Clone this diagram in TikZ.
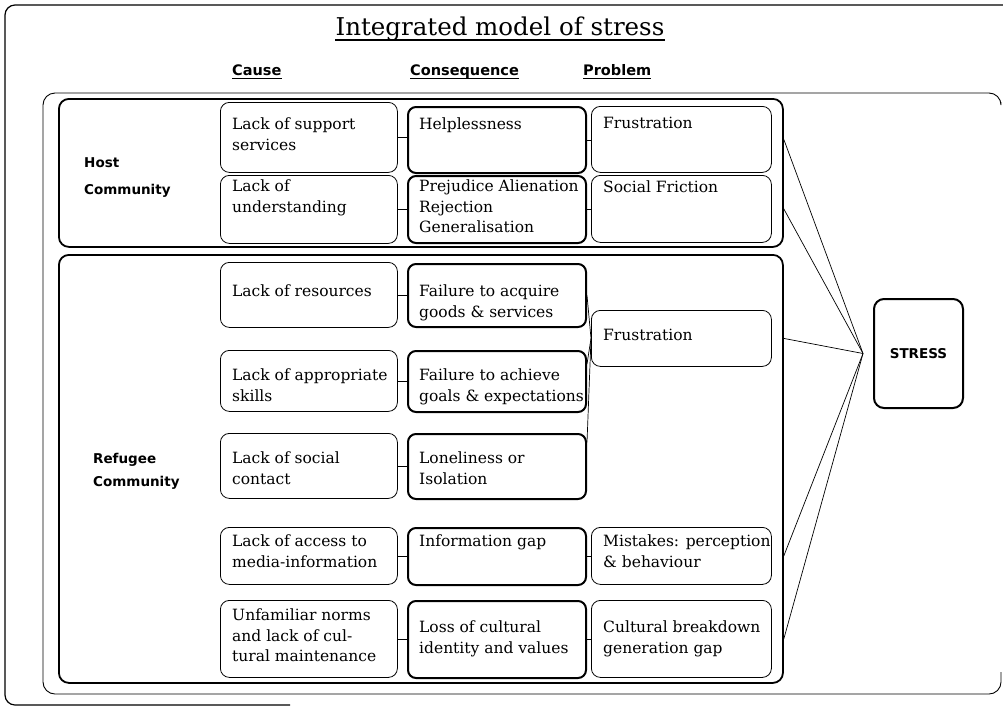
\documentclass[tikz,border=0pt]{standalone}
\usepackage{fontspec}
\setmainfont{DejaVu Serif}
\newfontfamily\headfont{DejaVu Sans}
\usetikzlibrary{calc}

\tikzset{
  causebox/.style={draw, line width=0.8pt, rounded corners=9pt, anchor=north west, inner sep=0pt, minimum width=177},
  consbox/.style={draw, line width=2pt, rounded corners=8pt, anchor=north west, inner sep=0pt, minimum width=178},
  probbox/.style={draw, line width=0.8pt, rounded corners=9pt, anchor=north west, inner sep=0pt, minimum width=180},
  groupbox/.style={draw, line width=1.8pt, rounded corners=10pt, anchor=north west, inner sep=0pt, minimum width=724},
  stressbox/.style={draw, line width=2pt, rounded corners=10pt, anchor=north west, inner sep=0pt,
    font=\headfont\bfseries\fontsize{13.5}{15}\selectfont},
  celltext/.style={anchor=north west, inner sep=0pt, align=left, font=\fontsize{15.5}{20.5}\selectfont},
  grouplabel/.style={anchor=west, inner sep=0pt, align=left, font=\headfont\bfseries\fontsize{13.5}{#1}\selectfont},
  header/.style={anchor=base west, inner sep=0pt, font=\headfont\bfseries\fontsize{14.5}{16}\selectfont},
  link/.style={draw, line width=0.7pt},
}

\begin{document}
\begin{tikzpicture}[x=1pt, y=-1pt]
    \useasboundingbox (0,0) rectangle (1003,710);

    % frames, partly cut off by the scan
    \draw[line width=1.2pt, rounded corners=10pt] (1003,5) -- (5,5) -- (5,705) -- (290,705);
    \draw[line width=0.9pt, rounded corners=12pt] (1001,672) -- (1001,694) -- (43,694) -- (43,93) -- (1001,93) -- (1001,102);

    \node[anchor=base, inner sep=0pt, font=\fontsize{24.5}{28}\selectfont] (title) at (500,35) {Integrated model of stress};
    \draw[line width=1.2pt] ($(title.base west)+(0,5)$) -- ($(title.base east)+(0,5)$);

    \foreach \n/\x/\t in {hcause/232/Cause, hcons/410/Consequence, hprob/583/Problem} {
        \node[header] (\n) at (\x,75) {\t};
        \draw[line width=1.2pt] ($(\n.base west)+(0,3.5)$) -- ($(\n.base east)+(0,3.5)$);
    }

    \node[groupbox, minimum height=148] (host) at (58,98) {};
    \node[groupbox, minimum height=428] (ref) at (58,254) {};
    \node[grouplabel=27] (hostlbl) at (84,178) {Host\\Community};
    \node[grouplabel=23] (reflbl) at (93,471) {Refugee\\Community};

    \foreach \n/\s/\x/\y/\h in {
        c1/causebox/220/102/70, e1/consbox/407/106/66, p1/probbox/591/106/66,
        c2/causebox/220/175/68, e2/consbox/407/175/67, p2/probbox/591/175/67,
        rc1/causebox/220/262/65, re1/consbox/407/263/63, fr/probbox/591/310/56,
        rc2/causebox/220/350/61, re2/consbox/407/350/61,
        rc3/causebox/220/433/65, re3/consbox/407/433/65,
        rc4/causebox/220/527/57, re4/consbox/407/527/57, rp4/probbox/591/527/57,
        rc5/causebox/220/600/77, re5/consbox/407/600/77, rp5/probbox/591/600/77}
        \node[\s, minimum height=\h] (\n) at (\x,\y) {};

    \foreach \n/\dy/\t in {
        c1/16/{Lack of support\\services}, e1/12/{Helplessness}, p1/11/{Frustration},
        c2/5/{Lack of\\understanding}, e2/5/{Prejudice Alienation\\Rejection\\Generalisation}, p2/6/{Social Friction},
        rc1/23/{Lack of resources}, re1/22/{Failure to acquire\\goods \& services}, fr/19/{Frustration},
        rc2/19/{Lack of appropriate\\skills}, re2/19/{Failure to achieve\\goals \& expectations},
        rc3/19/{Lack of social\\contact}, re3/19/{Loneliness or\\Isolation},
        rc4/8/{Lack of access to\\media-information}, re4/8/{Information gap}, rp4/8/{Mistakes: perception\\\& behaviour},
        rc5/9/{Unfamiliar norms\\and lack of cul-\\tural maintenance}, re5/21/{Loss of cultural\\identity and values},
        rp5/21/{Cultural breakdown\\generation gap}}
        \node[celltext] (\n-t) at ($(\n.north west)+(12,\dy)$) {\t};

    \foreach \a/\b in {c1/e1, e1/p1, c2/e2, e2/p2, rc1/re1, rc2/re2, rc3/re3, rc4/re4, re4/rp4, rc5/re5, re5/rp5}
        \draw[link] (\a.east) -- (\a.east -| \b.west);
    \draw[link] (re1.east) -- (fr.west);
    \draw[link] (re2.11) -- (fr.west);
    \draw[link] (re3.15) -- (fr.west);

    \node[stressbox, minimum width=89, minimum height=109] (stress) at (873,298) {STRESS};
    \coordinate (hub) at ($(stress.west)+(-10,0)$);
    \foreach \p/\g in {p1/host, p2/host, fr/ref, rp4/ref, rp5/ref}
        \draw[link] (\p.east -| \g.east) -- (hub);
\end{tikzpicture}
\end{document}
